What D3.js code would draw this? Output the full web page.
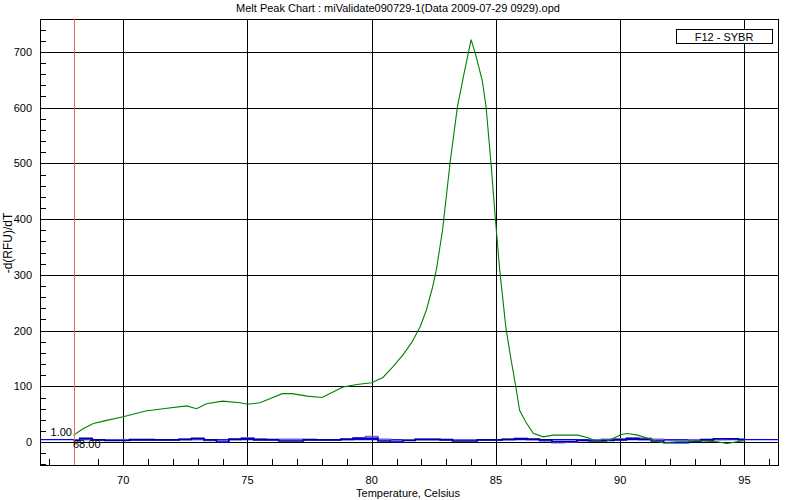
<!DOCTYPE html>
<html>
<head>
<meta charset="utf-8">
<script src="https://cdn.jsdelivr.net/npm/d3@7"></script>
<style>
  html, body { margin: 0; padding: 0; background: #fff; }
  svg { display: block; font-family: "Liberation Sans", Arial, sans-serif; }
</style>
</head>
<body>
<svg id="chart" width="800" height="500"></svg>
<script>
// ---- data ----
const titleText = "Melt Peak Chart : miValidate090729-1(Data 2009-07-29 0929).opd";
const xLabel = "Temperature, Celsius";
const yLabel = "-d(RFU)/dT";
const legendLabel = "F12 - SYBR";
const xTicks = [70, 75, 80, 85, 90, 95];
const yTicks = [0, 100, 200, 300, 400, 500, 600, 700];
const markerTemp = 68.0;
const markerLabelY = "1.00";
const markerLabelX = "68.00";
const thresholdValue = 4.5;

const greenTemps = [68.0, 68.4, 68.8, 69.2, 70.0, 70.9, 71.6, 72.55, 72.95, 73.35, 74.0, 74.7, 75.0, 75.5, 75.9, 76.4, 76.8, 77.4, 78.0, 78.3, 78.85, 79.4, 80.0, 80.45, 80.85, 81.25, 81.6, 81.95, 82.2, 82.45, 82.6, 82.85, 83.15, 83.45, 83.7, 84.0, 84.2, 84.45, 84.6, 84.8, 84.97, 85.15, 85.4, 85.6, 85.8, 85.95, 86.2, 86.5, 86.9, 87.3, 88.3, 88.7, 89.0, 89.4, 89.7, 90.05, 90.3, 90.7, 91.1, 91.5, 91.8, 92.3, 92.7, 93.1, 93.9, 94.3, 94.7, 95.0];
const greenValues = [12.6, 24.6, 33.5, 37.7, 45.5, 56, 60, 65, 60, 69, 73.6, 70.6, 68, 70.6, 78, 87, 87, 82.6, 80, 87, 99, 103.5, 106.5, 116, 135, 156, 178, 207, 237, 278, 309, 380, 500, 602, 658, 722, 692, 648, 602, 500, 404, 309, 205, 150, 99, 57, 36, 16, 9.5, 12.5, 12.6, 7.8, 2.4, 0.6, 6.6, 13.8, 15.6, 12.6, 7, 0.6, -1, 0.6, 0.6, 2.4, 0.6, -2.4, 0.6, 2.4];

const blueTemps = [68, 68.5, 69, 69.5, 70, 70.5, 71, 71.5, 72, 72.5, 73, 73.5, 74, 74.5, 75, 75.5, 76, 76.5, 77, 77.5, 78, 78.5, 79, 79.5, 80, 80.5, 81, 81.5, 82, 82.5, 83, 83.5, 84, 84.5, 85, 85.5, 86, 86.5, 87, 87.5, 88, 88.5, 89, 89.5, 90, 90.5, 91, 91.5, 92, 92.5, 93, 93.5, 94, 94.5, 95];
const navyValues = [3, 7, 4, 3, 3, 4, 4, 4, 4, 5, 7, 4, 0, 5, 6, 4, 4, 2, 2, 4, 4, 4, 5, 7, 7, 2, 0, 3, 5, 5, 4, 2, 2, 4, 4, 5, 6, 5, 4, 1, 1, 3, 2, 3, 4, 6, 5, 2, -1, -1, 1, 4, 6, 6, 5];
const purpleValues = [4, 6, 4, 4, 4, 5, 5, 4, 4, 5, 6, 3, 3, 6, 8, 6, 5, 5, 5, 5, 4, 4, 6, 8, 10, 5, 3, 4, 5, 5, 5, 4, 4, 4, 4, 5, 7, 6, 2, -1, 0, 3, 4, 5, 6, 8, 7, 5, 3, 3, 4, 5, 5, 6, 4];

// ---- layout ----
const svg = d3.select("#chart");
const L = 40, R = 778, T = 19, B = 465;
const x = d3.scaleLinear().domain([66.65, 96.35]).range([L, R]);
const y = d3.scaleLinear().domain([-41, 759]).range([B, T]);
const px = v => Math.round(v) + 0.5;

// gridlines
const g = svg.append("g");
g.selectAll("line.hg").data(yTicks).enter().append("line")
  .attr("x1", L).attr("x2", R)
  .attr("y1", d => px(y(d))).attr("y2", d => px(y(d)))
  .attr("stroke", "#000").attr("stroke-width", 1);
g.selectAll("line.vg").data(xTicks).enter().append("line")
  .attr("y1", T).attr("y2", B)
  .attr("x1", d => px(x(d))).attr("x2", d => px(x(d)))
  .attr("stroke", "#000").attr("stroke-width", 1);

// minor ticks
const yMinor = d3.range(-40, 760, 20).filter(v => v % 100 !== 0);
g.selectAll("line.ym").data(yMinor).enter().append("line")
  .attr("x1", L).attr("x2", L + 6)
  .attr("y1", d => px(y(d))).attr("y2", d => px(y(d)))
  .attr("stroke", "#000");
const xMinor = d3.range(67, 97, 1).filter(v => v % 5 !== 0);
g.selectAll("line.xm").data(xMinor).enter().append("line")
  .attr("y1", B).attr("y2", B - 6)
  .attr("x1", d => px(x(d))).attr("x2", d => px(x(d)))
  .attr("stroke", "#000");

// frame
svg.append("rect").attr("x", L + 0.5).attr("y", T + 0.5)
  .attr("width", R - L).attr("height", B - T)
  .attr("fill", "none").attr("stroke", "#000");

// tick labels
svg.selectAll("text.yt").data(yTicks).enter().append("text")
  .attr("x", 32).attr("y", d => y(d) + 4)
  .attr("text-anchor", "end").attr("font-size", 11).text(d => d);
svg.selectAll("text.xt").data(xTicks).enter().append("text")
  .attr("x", d => x(d)).attr("y", 483.5)
  .attr("text-anchor", "middle").attr("font-size", 11).text(d => d);

// axis labels & title
svg.append("text").attr("x", 408).attr("y", 497)
  .attr("text-anchor", "middle").attr("font-size", 11).text(xLabel);
svg.append("text").attr("transform", "translate(12,243) rotate(-90)")
  .attr("text-anchor", "middle").attr("font-size", 12).text(yLabel);
svg.append("text").attr("x", 398).attr("y", 12)
  .attr("text-anchor", "middle").attr("font-size", 11).text(titleText);

// threshold line
svg.append("line").attr("x1", L).attr("x2", R)
  .attr("y1", y(thresholdValue)).attr("y2", y(thresholdValue))
  .attr("stroke", "#0000ff").attr("stroke-width", 1.3);

// series
const lineGreen = d3.line().x((d, i) => x(greenTemps[i])).y(d => y(d));
const lineBlue = d3.line().x((d, i) => x(blueTemps[i])).y(d => y(d)).curve(d3.curveStep);

svg.append("path").datum(purpleValues).attr("d", lineBlue)
  .attr("fill", "none").attr("stroke", "#7060e0").attr("stroke-width", 1.6);
svg.append("path").datum(navyValues).attr("d", lineBlue)
  .attr("fill", "none").attr("stroke", "#0000a0").attr("stroke-width", 1.6);
svg.append("path").datum(greenValues).attr("d", lineGreen)
  .attr("fill", "none").attr("stroke", "#008000").attr("stroke-width", 1.1);

// marker line
svg.append("line").attr("x1", px(x(markerTemp))).attr("x2", px(x(markerTemp)))
  .attr("y1", T).attr("y2", B).attr("stroke", "#f06a5a").attr("stroke-width", 1);
svg.append("text").attr("x", 72).attr("y", 436).attr("text-anchor", "end")
  .attr("font-size", 11).text(markerLabelY);
svg.append("text").attr("x", 73).attr("y", 448)
  .attr("font-size", 11).text(markerLabelX);

// legend
svg.append("rect").attr("x", 676.5).attr("y", 29.5).attr("width", 96).attr("height", 14)
  .attr("fill", "#fff").attr("stroke", "#000");
svg.append("text").attr("x", 724).attr("y", 40.5).attr("text-anchor", "middle")
  .attr("font-size", 11).text(legendLabel);
</script>
</body>
</html>
